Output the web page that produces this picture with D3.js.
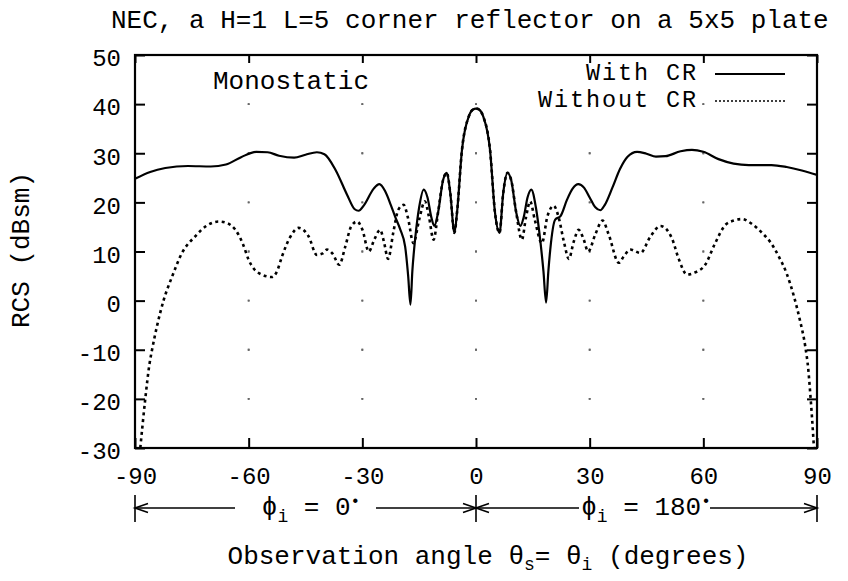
<!DOCTYPE html>
<html>
<head>
<meta charset="utf-8">
<script src="https://cdn.jsdelivr.net/npm/d3@7"></script>
<style>
  body { margin: 0; background: #fff; }
  svg text { font-family: "Liberation Mono", "DejaVu Sans Mono", monospace; fill: #000; }
</style>
</head>
<body>
<svg id="chart" width="848" height="581"></svg>
<script>
// axis ticks
const xTicks = [-90, -60, -30, 0, 30, 60, 90];
const yTicks = [-30, -20, -10, 0, 10, 20, 30, 40, 50];

// With CR (solid), angle in degrees and RCS in dBsm
const withAngle = [-90, -86, -82, -76, -70, -66, -62, -58, -55, -52, -48, -45, -42, -40, -37, -34, -32, -31, -29.5, -27, -25.5, -24, -22.5, -21.3, -20, -18.7, -17.9, -17.3, -16.8, -16, -15, -13.8, -12.8, -11.8, -11, -10, -8.7, -7.7, -6.8, -5.7, -5, -3.7, -1.9, -0.8, 0,
  0.8, 1.9, 3.7, 5, 6.2, 7.2, 8.3, 9.3, 10.6, 11.7, 12.6, 13.6, 14.6, 15.8, 17, 17.8, 18.5, 19.1, 19.6, 20.9, 22.3, 24, 25.5, 27, 28.5, 30, 31.5, 32.8, 34, 36, 38, 40, 42.5, 45, 47.5, 50, 54, 57, 60, 64, 68, 72, 78, 82, 86, 90];
const withRcs = [24.8, 26.2, 27.0, 27.4, 27.3, 27.7, 29.2, 30.3, 30.2, 29.5, 29.1, 29.7, 30.2, 29.8, 26.5, 21.5, 18.6, 18.3, 19.5, 22.8, 23.7, 22.3, 19.5, 17.0, 14.5, 11.0, 5.0, -0.8, 6.0, 13.0, 19.0, 22.6, 21.0, 17.0, 15.2, 18.0, 24.5, 26.0, 22.0, 13.8, 18.0, 30.7, 37.5, 38.9, 39.1,
  38.9, 37.5, 30.7, 18.0, 13.8, 22.0, 26.0, 24.5, 18.0, 15.2, 17.0, 21.0, 22.6, 19.0, 12.0, 6.0, -0.4, 6.0, 10.4, 16.5, 17.2, 20.5, 22.8, 23.7, 23.0, 21.0, 19.0, 18.4, 19.5, 23.0, 26.8, 29.3, 30.3, 29.9, 29.3, 29.4, 30.4, 30.7, 30.3, 28.8, 27.9, 27.6, 27.6, 27.2, 26.5, 25.6];

// Without CR (dotted)
const withoutAngle = [-88.6, -87.3, -86.2, -85.5, -84.2, -82.4, -80.2, -77.6, -74.1, -71, -67.9, -65.5, -63.5, -61.5, -60, -57.3, -53.8, -52.5, -51.2, -49, -46.8, -44.2, -42, -40.5, -39.3, -37.8, -36.1, -34.5, -33, -31.4, -30, -28.3, -26.8, -25.3, -24.3, -23.2, -21.8, -20.5, -19.1, -18, -16.5, -15, -13.5, -12.4, -11.2, -10, -8.7, -7.7, -6.8, -5.7, -5, -3.7, -1.9, -0.8, 0,
  0.8, 1.9, 3.7, 5, 6.2, 7.2, 8.3, 9.3, 10.6, 12.1, 13.2, 14.3, 15.5, 17.4, 18.8, 20.5, 21.8, 23.2, 24.5, 25.8, 27.1, 28.4, 29.6, 31.5, 33.4, 35, 37.7, 39, 40.7, 43.4, 46, 48.7, 51.7, 53.5, 55.7, 58, 60.5, 63, 65.8, 68, 70.2, 73, 75.5, 77.8, 79.9, 82, 83.9, 85.5, 86.9, 87.7, 88.2, 88.7, 89.2];
const withoutRcs = [-30, -20.1, -13, -10, -5.2, 0.2, 4.9, 9.7, 13.1, 15.3, 16.1, 15.7, 14.4, 11.5, 8.3, 5.6, 4.8, 6.0, 9.0, 13.0, 14.8, 13.1, 9.3, 9.6, 10.4, 9.5, 7.3, 11.0, 15.0, 16.1, 14.5, 10.0, 12.5, 14.4, 12.0, 8.5, 14.0, 18.5, 19.5, 17.0, 11.7, 16.5, 20.2, 17.0, 12.4, 18.0, 24.5, 26.0, 22.0, 13.8, 18.0, 30.7, 37.5, 38.9, 39.1,
  38.9, 37.5, 30.7, 18.0, 13.8, 22.0, 26.0, 24.5, 18.0, 12.4, 17.0, 20.2, 16.5, 11.7, 17.0, 19.3, 17.0, 12.0, 8.5, 12.0, 14.4, 12.5, 10.0, 13.5, 16.3, 13.5, 7.7, 9.0, 10.4, 9.7, 13.0, 15.2, 12.7, 8.5, 5.3, 5.8, 7.3, 11.5, 15.4, 16.3, 16.6, 15.5, 13.8, 11.8, 9.0, 5.5, 0.9, -4.0, -9.3, -14.0, -18.7, -24.0, -30];

const svg = d3.select("#chart");
const plotLeft = 135, plotRight = 817, plotTop = 55, plotBottom = 448;

const x = d3.scaleLinear().domain([-90, 90]).range([plotLeft, plotRight]);
const y = d3.scaleLinear().domain([-30, 50]).range([plotBottom, plotTop]);

// sparse dotted grid: one dot at each tick crossing
const dot = 1.8;
const stepY = y(40) - y(50), stepX = x(-60) - x(-90);
const grid = svg.append("g").attr("stroke", "#666").attr("stroke-width", 1.8);
grid.selectAll("line.v").data(xTicks.slice(1, -1)).enter().append("line")
  .attr("x1", d => x(d)).attr("x2", d => x(d))
  .attr("y1", plotTop).attr("y2", plotBottom)
  .attr("stroke-dasharray", `${dot},${stepY - dot}`)
  .attr("stroke-dashoffset", dot / 2);
grid.selectAll("line.h").data(yTicks.slice(1, -1)).enter().append("line")
  .attr("x1", plotLeft).attr("x2", plotRight)
  .attr("y1", d => y(d)).attr("y2", d => y(d))
  .attr("stroke-dasharray", `${dot},${stepX - dot}`)
  .attr("stroke-dashoffset", dot / 2);

// clip
svg.append("clipPath").attr("id", "plotClip")
  .append("rect").attr("x", plotLeft).attr("y", plotTop)
  .attr("width", plotRight - plotLeft).attr("height", plotBottom - plotTop);

const line = d3.line()
  .x(d => x(d[0]))
  .y(d => y(d[1]))
  .curve(d3.curveMonotoneX);

const withData = withAngle.map((a, i) => [a, withRcs[i]]);
const withoutData = withoutAngle.map((a, i) => [a, withoutRcs[i]]);

const plot = svg.append("g").attr("clip-path", "url(#plotClip)");
plot.append("path").datum(withoutData)
  .attr("fill", "none").attr("stroke", "#000").attr("stroke-width", 2.6)
  .attr("stroke-dasharray", "3,3.5")
  .attr("d", line);
plot.append("path").datum(withData)
  .attr("fill", "none").attr("stroke", "#000").attr("stroke-width", 2.2)
  .attr("d", line);

// axes, ticks pointing inward
const fmt = d => String(d);
svg.append("g").attr("transform", `translate(0,${plotBottom})`)
  .call(d3.axisBottom(x).tickValues(xTicks).tickSize(-10).tickPadding(19).tickFormat(fmt))
  .call(g => g.select(".domain").remove())
  .call(g => g.selectAll("line").attr("stroke-width", 2))
  .call(g => g.selectAll("text").attr("font-size", 24).attr("font-family", "Liberation Mono"));
svg.append("g").attr("transform", `translate(0,${plotTop})`)
  .call(d3.axisTop(x).tickValues(xTicks).tickSize(-8).tickFormat(""))
  .call(g => g.select(".domain").remove())
  .call(g => g.selectAll("line").attr("stroke-width", 2));
svg.append("g").attr("transform", `translate(${plotLeft},0)`)
  .call(d3.axisLeft(y).tickValues(yTicks).tickSize(-10).tickPadding(14).tickFormat(fmt))
  .call(g => g.select(".domain").remove())
  .call(g => g.selectAll("line").attr("stroke-width", 2))
  .call(g => g.selectAll("text").attr("font-size", 24).attr("font-family", "Liberation Mono").attr("dy", "0.45em"));
svg.append("g").attr("transform", `translate(${plotRight},0)`)
  .call(d3.axisRight(y).tickValues(yTicks).tickSize(-10).tickFormat(""))
  .call(g => g.select(".domain").remove())
  .call(g => g.selectAll("line").attr("stroke-width", 2));

svg.append("rect").attr("x", plotLeft).attr("y", plotTop)
  .attr("width", plotRight - plotLeft).attr("height", plotBottom - plotTop)
  .attr("fill", "none").attr("stroke", "#000").attr("stroke-width", 2.2);

// title and labels
svg.append("text").attr("x", 111).attr("y", 28).attr("font-size", 26)
  .text("NEC, a H=1 L=5 corner reflector on a 5x5 plate");
svg.append("text").attr("x", 213).attr("y", 89).attr("font-size", 26).text("Monostatic");

svg.append("text").attr("transform", "translate(29,250) rotate(-90)")
  .attr("text-anchor", "middle").attr("font-size", 26).text("RCS (dBsm)");

// legend
const legend = [
  { name: "With CR", dash: null, width: 2.2 },
  { name: "Without CR", dash: "2,2", width: 1.6 }
];
legend.forEach((d, i) => {
  const ly = 80 + i * 27;
  svg.append("text").attr("x", 698).attr("y", ly).attr("text-anchor", "end")
    .attr("font-size", 23.5).attr("letter-spacing", 1.9).text(d.name);
  svg.append("line").attr("x1", 715).attr("x2", 785).attr("y1", ly - 6).attr("y2", ly - 6)
    .attr("stroke", "#000").attr("stroke-width", d.width)
    .attr("stroke-dasharray", d.dash);
});

// incidence range annotation below the axis
const arrowY = 508;
const ann = svg.append("g").attr("stroke", "#000").attr("stroke-width", 1.6).attr("fill", "none");
[-90, 0, 90].forEach(a => {
  ann.append("line").attr("x1", x(a)).attr("x2", x(a)).attr("y1", 495).attr("y2", 522);
});
function arrow(x1, x2) {
  // line from x1 to x2, head at x2
  ann.append("line").attr("x1", x1).attr("x2", x2).attr("y1", arrowY).attr("y2", arrowY);
  const s = x2 > x1 ? -1 : 1;
  ann.append("path").attr("d", `M${x2 + s * 13},${arrowY - 4.5}L${x2},${arrowY}L${x2 + s * 13},${arrowY + 4.5}`);
}
arrow(x(-90) + 100, x(-90));
arrow(x(0) - 100, x(0));
arrow(x(0) + 103, x(0));
arrow(x(90) - 107, x(90));

const phi1 = svg.append("text").attr("x", 311).attr("y", 515).attr("text-anchor", "middle").attr("font-size", 26);
phi1.append("tspan").text("\u03d5");
phi1.append("tspan").attr("font-size", 18).attr("dy", 7).text("i");
phi1.append("tspan").attr("dy", -7).text(" = 0");
phi1.append("tspan").attr("font-size", 16).attr("dy", -9).text("\u2022");

const phi2 = svg.append("text").attr("x", 646).attr("y", 515).attr("text-anchor", "middle").attr("font-size", 26);
phi2.append("tspan").text("\u03d5");
phi2.append("tspan").attr("font-size", 18).attr("dy", 7).text("i");
phi2.append("tspan").attr("dy", -7).text(" = 180");
phi2.append("tspan").attr("font-size", 16).attr("dy", -9).text("\u2022");

const xt = svg.append("text").attr("x", 488).attr("y", 564).attr("text-anchor", "middle").attr("font-size", 26);
xt.append("tspan").text("Observation angle \u03b8");
xt.append("tspan").attr("font-size", 18).attr("dy", 6).text("s");
xt.append("tspan").attr("dy", -6).text("= \u03b8");
xt.append("tspan").attr("font-size", 18).attr("dy", 6).text("i");
xt.append("tspan").attr("dy", -6).text(" (degrees)");
</script>
</body>
</html>
